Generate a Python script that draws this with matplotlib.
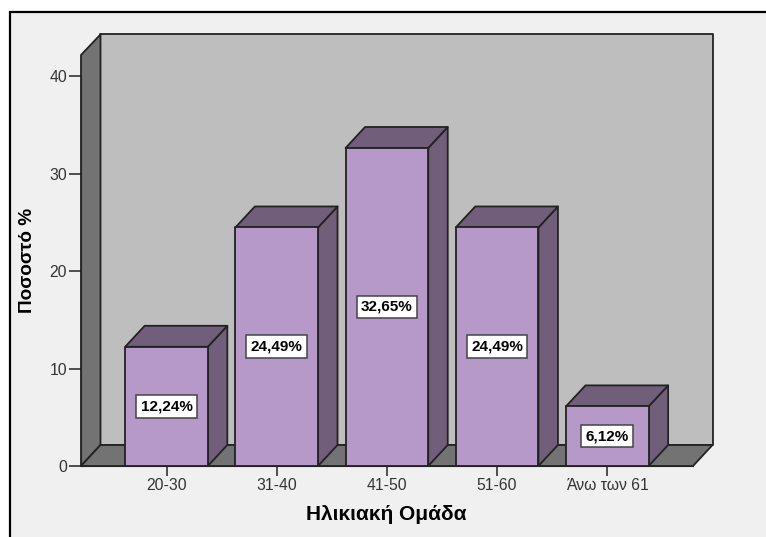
import matplotlib
matplotlib.use('Agg')
import matplotlib.pyplot as plt
from matplotlib.patches import Polygon, Rectangle

categories = ['20-30', '31-40', '41-50', '51-60', 'Άνω των 61']
percentages = [12.24, 24.49, 32.65, 24.49, 6.12]
value_labels = ['12,24%', '24,49%', '32,65%', '24,49%', '6,12%']
y_ticks = [0, 10, 20, 30, 40]

plt.rcParams['font.family'] = ['Liberation Sans', 'DejaVu Sans']

W, H = 766, 537
fig = plt.figure(figsize=(W / 100, H / 100), dpi=100, facecolor='white')

# Chart panel with the black top and left edges
fig.add_artist(Rectangle((9.5 / W, 0), (W - 9.5) / W, (H - 12) / H, transform=fig.transFigure,
                         facecolor='#f0f0f0', edgecolor='none', zorder=-5))
fig.add_artist(plt.Line2D([10 / W, 10 / W, 1], [0, (H - 12) / H, (H - 12) / H], transform=fig.transFigure,
                          color='black', linewidth=1.6, solid_joinstyle='miter', zorder=-4))

# Axes box is the front plane: pixels 81-693 across, y=0 at 466
px_per_cat = 110.2
px_per_unit = 9.74
ax = fig.add_axes([81 / W, (H - 466) / H, 612 / W, 40 * px_per_unit / H])
ax.set_xlim((81 - 166.5) / px_per_cat, (693 - 166.5) / px_per_cat)
ax.set_ylim(0, 40)
ax.patch.set_visible(False)

dx = 19.5 / px_per_cat
dy = 21 / px_per_unit
x0, x1 = ax.get_xlim()
y_top = 42.2
edge = '#222222'
lw = 1.3


def face(points, color, z):
    ax.add_patch(Polygon(points, closed=True, facecolor=color, edgecolor=edge, linewidth=lw,
                         joinstyle='round', clip_on=False, zorder=z))


# Walls and floor
face([(x0 + dx, dy), (x1 + dx, dy), (x1 + dx, y_top + dy - 0.05), (x0 + dx, y_top + dy - 0.05)], '#bebebe', 1)
face([(x0, 0), (x0 + dx, dy), (x0 + dx, y_top + dy - 0.05), (x0, y_top)], '#737373', 2)
face([(x0, 0), (x1, 0), (x1 + dx, dy), (x0 + dx, dy)], '#737373', 2)

# 3D bars
bar_width = 0.75
for i, value in enumerate(percentages):
    left = i - bar_width / 2
    right = i + bar_width / 2
    face([(right, 0), (right + dx, dy), (right + dx, value + dy), (right, value)], '#715e7b', 3 + i * 0.1)
    face([(left, value), (right, value), (right + dx, value + dy), (left + dx, value + dy)], '#715e7b', 3 + i * 0.1)
    face([(left, 0), (right, 0), (right, value), (left, value)], '#b799c9', 3.05 + i * 0.1)
    ax.text(i, value / 2, value_labels[i], ha='center', va='center', fontsize=11, fontweight='bold', color='black',
            zorder=5, bbox=dict(boxstyle='square,pad=0.28', facecolor='white', edgecolor='#444444', linewidth=1.1))

for side in ['top', 'right']:
    ax.spines[side].set_visible(False)
ax.spines['left'].set_color(edge)
ax.spines['bottom'].set_color(edge)
ax.spines['left'].set_zorder(6)
ax.spines['bottom'].set_zorder(6)

ax.set_xticks(range(len(categories)))
ax.set_xticklabels(categories)
ax.set_yticks(y_ticks)
ax.tick_params(axis='both', labelsize=11.3, length=7, width=1.2, color='#333333', labelcolor='#333333', pad=1.5)
ax.tick_params(axis='y', length=9, pad=1)

ax.set_xlabel('Ηλικιακή Ομάδα', fontsize=15, fontweight='bold', color='black', va='center')
ax.xaxis.set_label_coords((386 - 81) / 612, -(515 - 466) / (40 * px_per_unit), transform=ax.transAxes)
ax.set_ylabel('Ποσοστό %', fontsize=13.7, fontweight='bold', color='black', va='center')
ax.yaxis.set_label_coords(-(81 - 28) / 612, (466 - 260) / (40 * px_per_unit), transform=ax.transAxes)

fig.savefig('out.png', dpi=100, facecolor=fig.get_facecolor())
plt.close(fig)
